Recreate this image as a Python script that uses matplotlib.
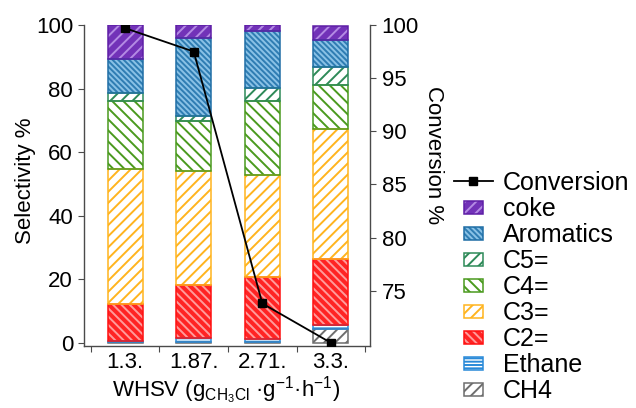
import matplotlib
matplotlib.use("Agg")
import matplotlib.pyplot as plt
from matplotlib.patches import Patch, Rectangle
from matplotlib.lines import Line2D
from matplotlib.legend_handler import HandlerTuple, HandlerPatch
import numpy as np

plt.rcParams['font.family'] = ['Liberation Sans', 'DejaVu Sans']
plt.rcParams['mathtext.fontset'] = 'custom'
plt.rcParams['mathtext.rm'] = 'Liberation Sans'
plt.rcParams['mathtext.it'] = 'Liberation Sans:italic'
plt.rcParams['hatch.linewidth'] = 1.4

# ---- data ----
categories = ['1.3.', '1.87.', '2.71.', '3.3.']
ch4 = [0.2, 0.3, 0.3, 4.3]
ethane = [0.5, 1.2, 0.9, 1.4]
c2 = [11.6, 16.6, 19.5, 20.6]
c3 = [42.4, 36.1, 32.1, 40.9]
c4 = [21.5, 15.6, 23.4, 13.9]
c5 = [2.3, 1.6, 3.9, 5.6]
aromatics = [10.7, 24.4, 18.1, 8.6]
coke = [10.8, 4.2, 1.8, 4.4]
conversion = [99.7, 97.5, 73.8, 70.1]

series_names = ['CH4', 'Ethane', 'C2=', 'C3=', 'C4=', 'C5=', 'Aromatics', 'coke']
series_vals = [ch4, ethane, c2, c3, c4, c5, aromatics, coke]

# styles: (face, hatchcolor, hatch, edgecolor)
styles = {
    'CH4':       ('white',   '#6e6e6e', '///',    '#6e6e6e'),
    'Ethane':    ('white',   '#2a8ad8', '-----',  '#2a8ad8'),
    'C2=':       ('#ff2424', '#ff9c9c', '\\\\\\\\', '#ff1010'),
    'C3=':       ('white',   '#ffb41e', '///',    '#ffb41e'),
    'C4=':       ('white',   '#4a9a1e', '\\\\\\', '#4a9a1e'),
    'C5=':       ('white',   '#2e8a58', '///',    '#2e8a58'),
    'Aromatics': ('#2f7db3', '#8ac2e6', '\\\\\\\\\\\\', '#1f6ea5'),
    'coke':      ('#7232b8', '#b48be4', '///',    '#5e1ea6'),
}

W, H = 636, 408
fig = plt.figure(figsize=(W / 100, H / 100), dpi=100)
ax = fig.add_axes([84 / W, 1 - 346 / H, (370 - 84) / W, (346 - 25) / H])
ax2 = ax.twinx()

x = np.arange(len(categories))
bw = 0.51
bottom = np.zeros(len(categories))
for name, vals in zip(series_names, series_vals):
    fc, hc, hatch, ec = styles[name]
    vals = np.array(vals)
    ax.bar(x, vals, bw, bottom=bottom, color=fc, edgecolor='none', linewidth=0, zorder=2)
    ax.bar(x, vals, bw, bottom=bottom, facecolor='none', edgecolor=hc, hatch=hatch, linewidth=0, zorder=3)
    ax.bar(x, vals, bw, bottom=bottom, fill=False, edgecolor=ec, linewidth=1.1, zorder=4)
    bottom += vals

ax2.plot(x, conversion, color='black', lw=1.3, marker='s', ms=6, zorder=5)

# axes limits
ax.set_xlim(-0.6, 3.57)
ax.set_ylim(-1, 100)
ax2.set_ylim(69.8, 100)

spc = '#4a4a4a'
for a in (ax, ax2):
    a.spines['top'].set_visible(False)
    for s in a.spines.values():
        s.set_color(spc)
        s.set_linewidth(1.0)
ax.spines['right'].set_visible(False)
ax2.spines['left'].set_visible(False)
ax2.spines['bottom'].set_visible(False)

ax.set_yticks([0, 20, 40, 60, 80, 100])
ax.tick_params(axis='y', direction='out', length=4.3, width=0.8, color=spc, pad=3.6, labelsize=16)
ax2.set_yticks([75, 80, 85, 90, 95, 100])
ax2.tick_params(axis='y', direction='out', length=4.3, width=0.8, color=spc, pad=4.0, labelsize=16)

ax.set_xticks([-0.5, 0.5, 1.5, 2.5, 3.5])
ax.set_xticklabels([])
ax.set_xticks(x, minor=True)
ax.set_xticklabels(categories, minor=True)
ax.tick_params(axis='x', which='major', direction='out', length=4.3, width=0.8, color=spc)
ax.tick_params(axis='x', which='minor', length=0, pad=4.0, labelsize=16)

fig.text(25 / W, 1 - 181 / H, 'Selectivity %', rotation=90, ha='center', va='center', fontsize=16)
fig.text(434 / W, 1 - 155 / H, 'Conversion %', rotation=270, ha='center', va='center', fontsize=16)
fig.text(226 / W, 1 - 397 / H, 'WHSV (g$_{\\mathrm{CH_3Cl}}$ ·g$^{-1}$·h$^{-1}$)',
         ha='center', va='baseline', fontsize=16)

# legend
def small_rect(legend, orig_handle, xdescent, ydescent, width, height, fontsize):
    w, h = 13.0, 9.0
    return Rectangle((-xdescent + (width - w) / 2, -ydescent + (height - h) / 2), w, h)

handles = [Line2D([], [], color='black', lw=1.3, marker='s', ms=6)]
labels = ['Conversion']
for name in series_names[::-1]:
    fc, hc, hatch, ec = styles[name]
    p1 = Patch(facecolor=fc, edgecolor='none', linewidth=0)
    p2 = Patch(facecolor='none', edgecolor=hc, hatch=hatch, linewidth=0)
    p3 = Patch(fill=False, edgecolor=ec, linewidth=1.1)
    handles.append((p1, p2, p3))
    labels.append(name)

fig.legend(handles, labels, loc='upper left', bbox_to_anchor=(454 / W, 1 - 171 / H),
           frameon=False, fontsize=18, handlelength=1.56, handletextpad=0.4,
           labelspacing=0.08, borderpad=0, borderaxespad=0,
           handler_map={tuple: HandlerTuple(ndivide=1, pad=0), Patch: HandlerPatch(patch_func=small_rect)})

fig.savefig('out.png', dpi=100)
